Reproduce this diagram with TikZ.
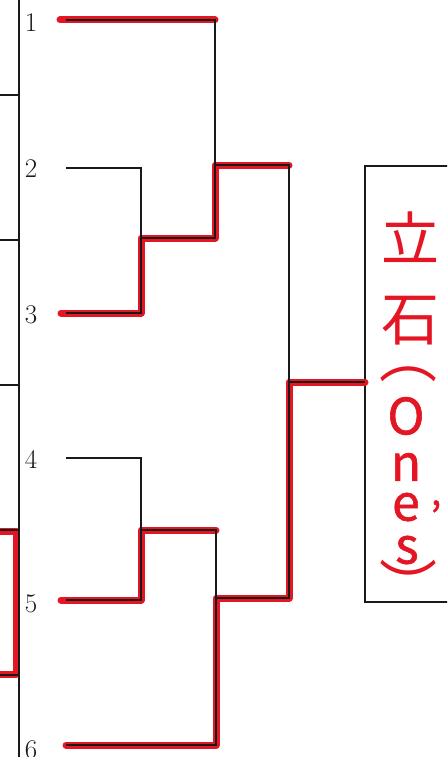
\documentclass[tikz,border=0pt]{standalone}
\usepackage{fontspec}
\newfontfamily\jpfont{Noto Sans CJK JP}
\newfontfamily\penfont[FakeBold=1.2]{Noto Sans CJK JP}
\usetikzlibrary{calc}
\definecolor{ink}{RGB}{25,25,25}
\definecolor{pen}{RGB}{228,22,36}
\tikzset{
  ln/.style={draw=ink,line width=1.2pt},
  hl/.style={draw=pen,line width=7pt,line cap=round,line join=round},
  seed/.style={font=\fontsize{27}{27}\selectfont,text=ink,inner sep=0pt},
  hand/.style={font=\jpfont\fontsize{58}{58}\selectfont,text=pen,inner sep=0pt},
  latin/.style={font=\penfont\fontsize{50}{50}\selectfont,text=pen,inner sep=0pt},
  namebox/.style={draw=ink,line width=1.2pt,inner sep=0pt,outer sep=0pt,
    minimum width=120pt,minimum height=436pt,anchor=north west},
}

\begin{document}
\begin{tikzpicture}[x=1pt,y=-1pt]
\useasboundingbox (0,0) rectangle (447,757);
\clip (0,0) rectangle (447,757);
% seeds
\node[seed] (n1) at (31,23) {1};
\node[seed] (n2) at (31,169) {2};
\node[seed] (n3) at (31,315) {3};
\node[seed] (n4) at (31,459) {4};
\node[seed] (n5) at (31,604) {5};
\node[seed] (n6) at (31,750) {6};
\coordinate (e1) at (66,20);
\coordinate (e2) at (66,168);
\coordinate (e3) at (66,313);
\coordinate (e4) at (66,458);
\coordinate (e5) at (66,600);
\coordinate (e6) at (66,745);
% joints
\coordinate (r23) at (141,238);
\coordinate (r45) at (141,530);
\coordinate (q1) at (215,165);
\coordinate (q2) at (216,598);
\coordinate (s1) at (289,382);
\node[namebox] (win) at (365,166) {};
% column on the left
\coordinate (top) at (19,0);
\coordinate (bot) at (19,757);
\coordinate (p4) at (-5,531);
\coordinate (t4) at (16,531);
\coordinate (t5) at (16,674);
\coordinate (p5) at (-5,674);

% red marker: who won
\draw[hl] ([xshift=-6]e1) -- (e1 -| q1);
\draw[hl] ([xshift=-5]e3) -| (r23) -- (r23 -| q1) -- (q1) -- (q1 -| s1);
\draw[hl] ([xshift=-5]e5) -| (r45) -- (r45 -| q2);
\draw[hl] (e6) -| (q2) -- (q2 -| s1) -- (s1) -- (s1 -| win.west);
\draw[hl] (p4) -- (t4) -- (t5) -- (p5);

% bracket lines
\draw[ln] (top) -- (bot);
\foreach \y in {95,240,385,530,675}
  \draw[ln] (0,\y) -- (19,\y);
\draw[ln] (e2) -| (r23) |- (e3);
\draw[ln] (e1) -| (q1) |- (r23);
\draw[ln] (e4) -| (r45) |- (e5);
\draw[ln] (r45) -| (q2) |- (e6);
\draw[ln] (q1) -| (s1) |- (q2);
\draw[ln] (s1) -- (s1 -| win.west);

% name written in the box
\node[hand] (k1) at (410,237) {立};
\node[hand] (k2) at (410,321) {石};
\node[hand] (k3) at (408,374) {︵};
\node[latin] (k4) at (406,416) {O};
\node[latin] (k5) at (406,467) {n};
\node[latin] (k6) at (406,507) {e};
\node[latin,font=\penfont\fontsize{40}{40}\selectfont] (k7) at (436,516) {’};
\node[latin] (k8) at (407,550) {s};
\node[hand] (k9) at (408,584) {︶};
\end{tikzpicture}
\end{document}
